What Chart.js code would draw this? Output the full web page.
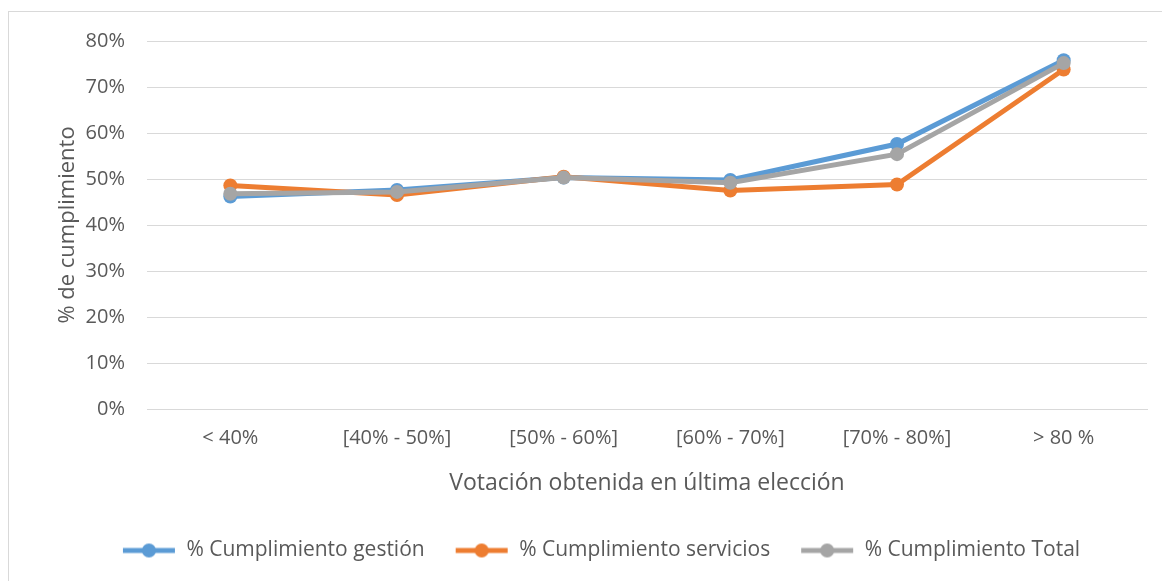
<!DOCTYPE html>
<html>
<head>
<meta charset="utf-8">
<script src="https://cdn.jsdelivr.net/npm/chart.js@4.4.0/dist/chart.umd.min.js"></script>
<style>
  html, body { margin: 0; padding: 0; background: #fff; }
  #wrap { width: 1162px; height: 581px; position: relative; }
</style>
</head>
<body>
<div id="wrap"><canvas id="grafico"></canvas></div>
<script>
// categorias del eje x
const categorias = ['< 40%', '[40% - 50%]', '[50% - 60%]', '[60% - 70%]', '[70% - 80%]', '> 80 %']
// valores de cada serie (en %)
const gestion = [46.2, 47.6, 50.3, 49.8, 57.6, 75.8]
const servicios = [48.6, 46.5, 50.5, 47.5, 48.8, 73.8]
const total = [46.8, 47.2, 50.3, 49.2, 55.4, 75.2]
const nombres = ['% Cumplimiento gestión', '% Cumplimiento servicios', '% Cumplimiento Total']
const colores = ['#5B9BD5', '#ED7D31', '#A5A5A5']

const fuente = "'Open Sans', sans-serif"
const gris = '#595959'

// icono de leyenda: linea con circulo
function icono(color) {
    let c = document.createElement('canvas')
    c.width = 54
    c.height = 16
    let ctx = c.getContext('2d')
    ctx.strokeStyle = color
    ctx.lineWidth = 5
    ctx.beginPath()
    ctx.moveTo(1, 8)
    ctx.lineTo(53, 8)
    ctx.stroke()
    ctx.fillStyle = color
    ctx.beginPath()
    ctx.arc(27, 8, 7, 0, Math.PI * 2)
    ctx.fill()
    return c
}

// borde exterior del grafico
const borde = {
    id: 'borde',
    beforeDraw(chart) {
        let ctx = chart.ctx
        ctx.save()
        ctx.strokeStyle = '#D9D9D9'
        ctx.lineWidth = 1
        ctx.strokeRect(8.5, 11.5, 1170, 580)
        ctx.restore()
    }
}

const series = [gestion, servicios, total]

new Chart(document.getElementById('grafico'), {
    type: 'line',
    data: {
        labels: categorias,
        datasets: series.map(function (s, i) {
            return {
                label: nombres[i],
                data: s,
                borderColor: colores[i],
                backgroundColor: colores[i],
                borderWidth: 5,
                pointRadius: 7,
                pointHoverRadius: 7,
                pointBorderWidth: 0,
                tension: 0,
                order: 3 - i
            }
        })
    },
    options: {
        responsive: true,
        maintainAspectRatio: false,
        animation: false,
        layout: { padding: { left: 55, right: 15, top: 41, bottom: 10 } },
        plugins: {
            tooltip: { enabled: false },
            legend: {
                position: 'bottom',
                labels: {
                    usePointStyle: true,
                    pointStyleWidth: 54,
                    color: gris,
                    font: { family: fuente, size: 21 },
                    padding: 30,
                    generateLabels: function (chart) {
                        return chart.data.datasets.map(function (d, i) {
                            return {
                                text: d.label,
                                pointStyle: icono(colores[i]),
                                fillStyle: colores[i],
                                strokeStyle: colores[i],
                                lineWidth: 0,
                                fontColor: gris,
                                datasetIndex: i,
                                hidden: false
                            }
                        })
                    }
                }
            }
        },
        scales: {
            x: {
                offset: true,
                grid: { display: false },
                border: { display: true, color: '#D9D9D9' },
                ticks: { color: gris, font: { family: fuente, size: 20 }, padding: 9 },
                title: {
                    display: true,
                    text: 'Votación obtenida en última elección',
                    color: gris,
                    font: { family: fuente, size: 23 },
                    padding: { top: 4, bottom: 13 }
                },
                afterFit: function (scale) { scale.height = 101 }
            },
            y: {
                min: 0,
                max: 80,
                grid: { color: '#D9D9D9', lineWidth: 1, drawTicks: false },
                border: { display: false },
                ticks: {
                    stepSize: 10,
                    color: gris,
                    font: { family: fuente, size: 20 },
                    padding: 22,
                    callback: function (v) { return v + '%' }
                },
                title: {
                    display: true,
                    text: '% de cumplimiento',
                    color: gris,
                    font: { family: fuente, size: 22 },
                    padding: 0
                },
                afterFit: function (scale) { scale.width = 92 }
            }
        }
    },
    plugins: [borde]
})
</script>
</body>
</html>
